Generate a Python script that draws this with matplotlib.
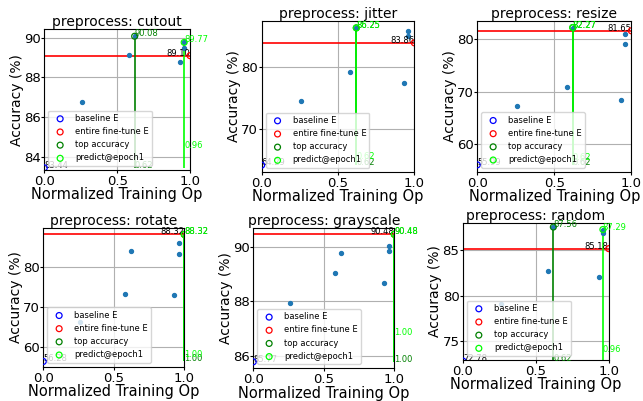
import matplotlib
matplotlib.use("Agg")
import matplotlib.pyplot as plt

# --- data ---
names = ["cutout", "jitter", "resize", "rotate", "grayscale", "random"]
ops = [0.26, 0.58, 0.62, 0.93, 0.96, 0.96]
acc = {
    "cutout":    [86.78, 89.13, 90.08, 88.79, 89.50, 89.77],
    "jitter":    [74.58, 79.27, 86.25, 77.45, 85.74, 85.00],
    "resize":    [67.30, 70.86, 82.27, 68.44, 81.07, 79.16],
    "rotate":    [66.30, 73.28, 84.10, 72.95, 86.05, 83.27],
    "grayscale": [87.93, 89.06, 89.80, 88.67, 90.04, 89.88],
    "random":    [79.02, 82.72, 87.56, 82.07, 86.90, 87.29],
}
baseline = [83.44, 64.29, 55.99, 56.28, 85.77, 72.78]
finetune = [89.10, 83.86, 81.65, 88.32, 90.48, 85.18]
top_x = [0.62, 0.62, 0.62, 1.00, 1.00, 0.62]
top_acc = [90.08, 86.25, 82.27, 88.32, 90.48, 87.56]
pred_x = [0.96, 0.62, 0.62, 1.00, 1.00, 0.96]
pred_acc = [89.77, 86.25, 82.27, 88.32, 90.48, 87.29]

yticks = [[84, 86, 88, 90], [70, 80], [60, 70, 80],
          [60, 70, 80], [86, 88, 90], [75, 80, 85]]
ylims = [(83.33, 90.43), (63.19, 87.35), (54.68, 83.58),
         (54.96, 89.85), (85.53, 90.70), (72.9, 88.04)]

# axes boxes in pixels (left, top, right, bottom)
W, H = 643, 401
boxes = [(44.3, 29.3, 190, 170), (261.7, 21, 414.3, 172), (477.3, 20.7, 631.3, 171.7),
         (43.3, 228.3, 184.3, 366.7), (253.3, 228.3, 394.3, 368.3), (463, 222.7, 608.7, 360)]

fig = plt.figure(figsize=(W / 100, H / 100), dpi=100)

for i, name in enumerate(names):
    l, t, r, b = boxes[i]
    ax = fig.add_axes([l / W, 1 - b / H, (r - l) / W, (b - t) / H])

    ax.scatter(ops, acc[name], s=8, color="#1f77b4", zorder=3)

    ax.scatter([0], [baseline[i]], s=18, facecolors="none", edgecolors="blue",
               linewidths=0.9, label="baseline E", zorder=4)
    ax.text(0, baseline[i], f"{baseline[i]:.2f}", fontsize=6, color="black")

    ax.axhline(finetune[i], color="red", lw=1.2, zorder=2)
    ax.scatter([1.0], [finetune[i]], s=18, facecolors="none", edgecolors="red",
               linewidths=0.9, label="entire fine-tune E", zorder=4)
    ax.text(1.0, finetune[i], f"{finetune[i]:.2f}", fontsize=6, color="black", ha="right")

    ax.vlines(top_x[i], baseline[i], top_acc[i], color="green", lw=1.2, zorder=2)
    ax.scatter([top_x[i]], [top_acc[i]], s=18, facecolors="none", edgecolors="green",
               linewidths=0.9, label="top accuracy", zorder=4)
    ax.text(top_x[i], top_acc[i], f"{top_acc[i]:.2f}", fontsize=6, color="green")
    ax.text(top_x[i], baseline[i], f"{top_x[i]:.2f}", fontsize=6, color="green")

    ax.vlines(pred_x[i], baseline[i], pred_acc[i], color="lime", lw=1.2, zorder=2)
    ax.scatter([pred_x[i]], [pred_acc[i]], s=18, facecolors="none", edgecolors="lime",
               linewidths=0.9, label="predict@epoch1", zorder=4)
    ax.text(pred_x[i], pred_acc[i], f"{pred_acc[i]:.2f}", fontsize=6, color="lime")
    ax.text(pred_x[i], baseline[i] + 1, f"{pred_x[i]:.2f}", fontsize=6, color="lime")

    ax.set_xlim(0, 1)
    ax.set_ylim(*ylims[i])
    ax.set_xticks([0.0, 0.5, 1.0])
    ax.set_yticks(yticks[i])
    ax.grid(True, color="#b0b0b0", lw=0.8)
    ax.set_axisbelow(True)
    ax.tick_params(axis="x", labelsize=9.5, length=2.5, pad=1.2)
    ax.tick_params(axis="y", labelsize=9.5, length=2, pad=0.6)
    ax.set_title(f"preprocess: {name}", fontsize=10, pad=2)
    ax.set_xlabel("Normalized Training Op", fontsize=10.5, labelpad=-0.5)
    ax.set_ylabel("Accuracy (%)", fontsize=10, labelpad=0)
    ax.legend(loc="lower left", fontsize=6, scatterpoints=1, framealpha=0.8)

fig.savefig("out.png", dpi=100)
